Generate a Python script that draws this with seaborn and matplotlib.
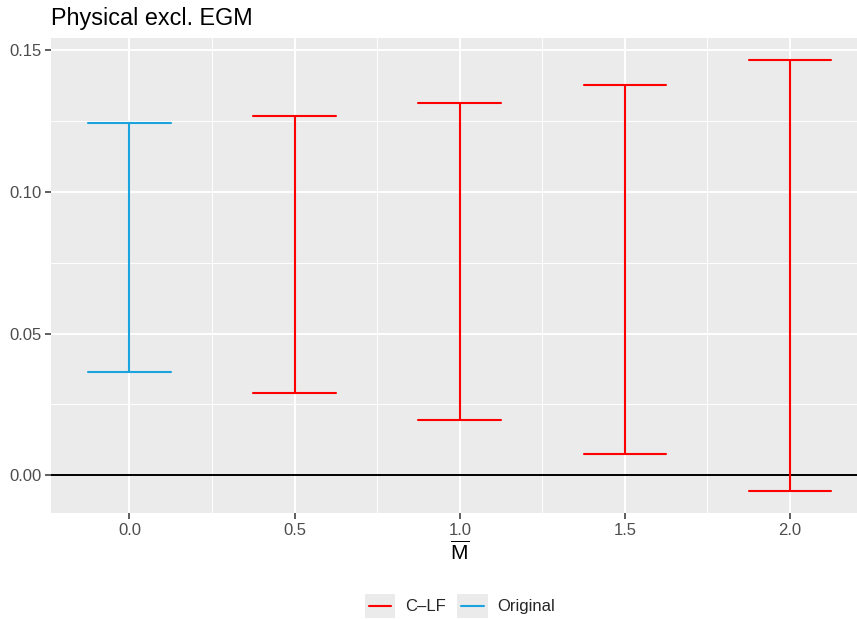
import numpy as np
import pandas as pd
import matplotlib
matplotlib.use("Agg")
import matplotlib.pyplot as plt
from matplotlib.legend_handler import HandlerBase
from matplotlib.lines import Line2D
from matplotlib.patches import Rectangle
from matplotlib.ticker import MultipleLocator
import seaborn as sns

# Interval bounds for each M-bar setting
m_values = [0.0, 0.5, 1.0, 1.5, 2.0]
methods = ["Original", "C\u2013LF", "C\u2013LF", "C\u2013LF", "C\u2013LF"]
lower = [0.0365, 0.0290, 0.0193, 0.0075, -0.0058]
upper = [0.1245, 0.1270, 0.1316, 0.1379, 0.1468]
cap_width = 0.25

palette = {"C\u2013LF": "#FF0000", "Original": "#1AA3DC"}

sns.set_theme(style="darkgrid", rc={
    "axes.facecolor": "#EBEBEB",
    "grid.color": "white",
})
plt.rcParams["font.family"] = ["Liberation Sans", "DejaVu Sans"]
plt.rcParams["mathtext.fontset"] = "custom"
plt.rcParams["mathtext.rm"] = "Liberation Sans"
plt.rcParams["mathtext.it"] = "Liberation Sans:italic"

df = pd.DataFrame({"M": m_values, "Method": methods, "lo": lower, "hi": upper})

# vertical stems: two points per interval, one unit per M value
stems = df.melt(id_vars=["M", "Method"], value_vars=["lo", "hi"],
                var_name="end", value_name="value")

# caps: horizontal segments at each bound
caps = []
for _, r in df.iterrows():
    for end in ("lo", "hi"):
        for side in (-0.5, 0.5):
            caps.append({"x": r["M"] + side * cap_width, "y": r[end],
                         "Method": r["Method"], "unit": f"{r['M']}_{end}"})
caps = pd.DataFrame(caps)

fig = plt.figure(figsize=(8.57, 6.19), dpi=100)
ax = fig.add_axes([51 / 857, 1 - 513 / 619, (868.5 - 51) / 857, (513 - 38) / 619])

ax.axhline(0, color="black", lw=1.4, zorder=1.5)

sns.lineplot(data=stems, x="M", y="value", hue="Method", units="M",
             estimator=None, sort=False, orient="y", palette=palette,
             lw=1.5, legend=False, ax=ax, zorder=3)
sns.lineplot(data=caps, x="x", y="y", hue="Method", units="unit",
             estimator=None, sort=False, palette=palette,
             lw=1.5, legend=False, ax=ax, zorder=3)

ax.set_xlim(-0.2375, 2.2375)
ax.set_ylim(-0.0134, 0.1544)
ax.xaxis.set_minor_locator(MultipleLocator(0.25))
ax.yaxis.set_minor_locator(MultipleLocator(0.025))
ax.set_xticks(m_values)
ax.set_xticklabels([f"{v:.1f}" for v in m_values])
ax.set_yticks([0.0, 0.05, 0.10, 0.15])
ax.set_yticklabels(["0.00", "0.05", "0.10", "0.15"])
ax.grid(which="major", color="white", lw=1.4)
ax.grid(which="minor", color="white", lw=0.7)
for s in ax.spines.values():
    s.set_visible(False)
ax.tick_params(axis="both", which="major", length=4, width=1.1, color="#333333",
               labelsize=12, labelcolor="#4D4D4D", pad=3, bottom=True, left=True)
ax.tick_params(which="minor", length=0)

ax.set_xlabel(r"$\overline{\mathrm{M}}$", fontsize=15, labelpad=2, color="black")
ax.set_ylabel("")
fig.text(51 / 857, 1 - 18 / 619, "Physical excl. EGM", fontsize=16.8,
         ha="left", va="center", color="black")


class KeyHandler(HandlerBase):
    def create_artists(self, legend, orig_handle, xdescent, ydescent,
                       width, height, fontsize, trans):
        bg = Rectangle((-xdescent, -ydescent), width, height,
                       facecolor="#EBEBEB", edgecolor="none", transform=trans)
        ymid = -ydescent + height / 2
        line = Line2D([-xdescent + 0.13 * width, -xdescent + 0.87 * width],
                      [ymid, ymid], color=orig_handle.get_color(),
                      lw=orig_handle.get_linewidth(), transform=trans)
        return [bg, line]


handles = [Line2D([0], [0], color=palette[k], lw=1.5) for k in ("C\u2013LF", "Original")]
leg = fig.legend(handles, ["C\u2013LF", "Original"], loc="center",
                 bbox_to_anchor=(460 / 857, 1 - 606 / 619), ncol=2, frameon=False,
                 fontsize=12, handlelength=1.85, handleheight=1.85,
                 handletextpad=0.6, columnspacing=0.65, borderpad=0,
                 handler_map={Line2D: KeyHandler()})

fig.savefig("out.png", dpi=100)
